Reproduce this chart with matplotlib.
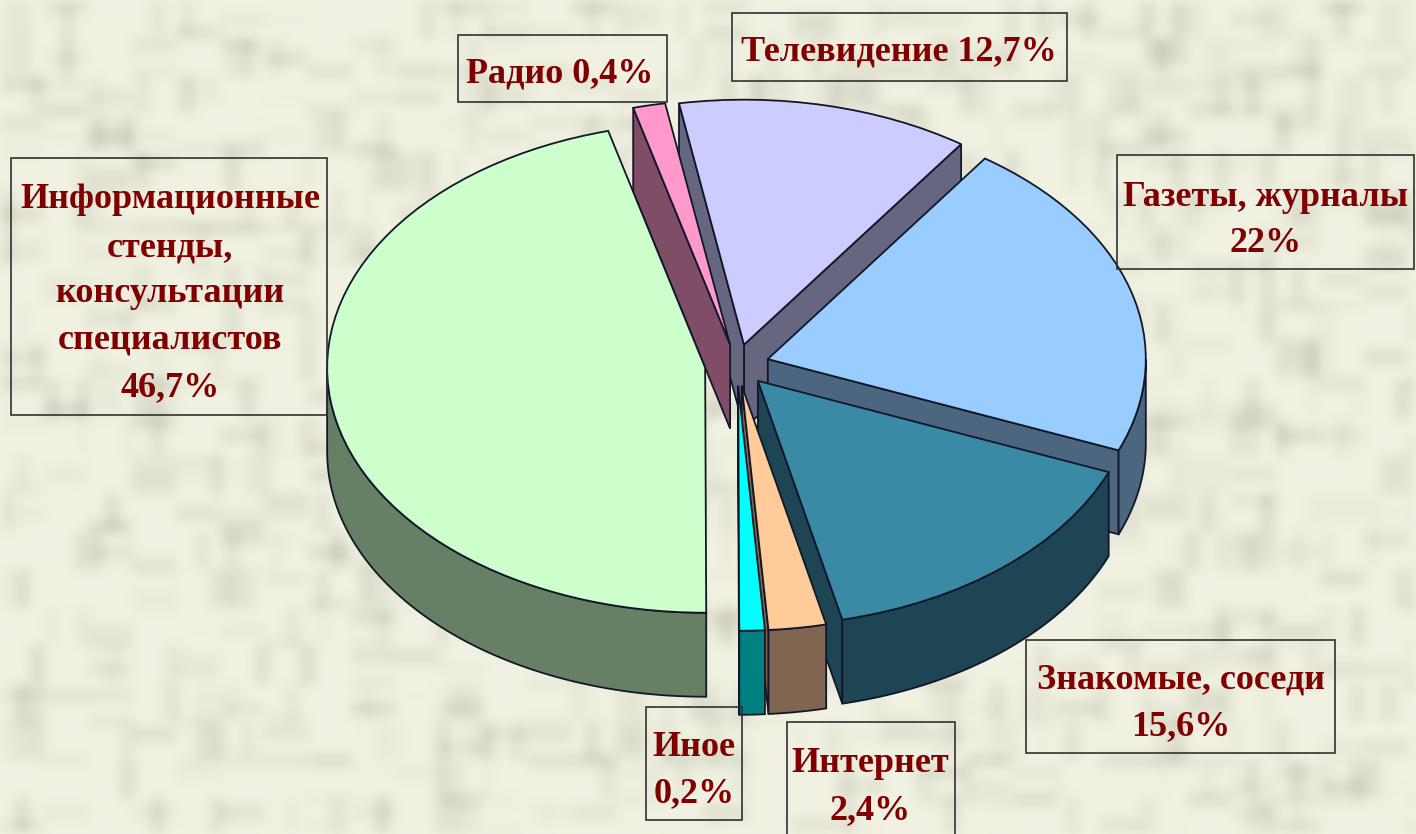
import numpy as np
import matplotlib
matplotlib.use('Agg')
import matplotlib.pyplot as plt
from matplotlib.patches import Polygon, Rectangle

# values from the labels, clockwise from Televidenie
names = ['Телевидение', 'Газеты, журналы', 'Знакомые, соседи', 'Интернет', 'Иное',
         'Информационные', 'Радио']
labelled = [12.7, 22, 15.6, 2.4, 0.2, 46.7, 0.4]
# shares as the slices are really drawn, the smallest are wider than their labels say
drawn = [12.7, 21.7, 15.6, 2.5, 1.1, 46.7, 1.4]
tops = ['#CCCCFF', '#99CCFF', '#3A8AA6', '#FFCC99', '#00FFFF', '#CCFFCC', '#FF99CC']
walls = ['#666680', '#4D6680', '#1D4553', '#806650', '#008080', '#668066', '#804D66']
paint_order = [0, 6, 1, 2, 5, 3, 4]  # back slices first

W, H = 1416, 834
CX, CY, RX, RY, DEPTH = 737, 365, 378, 245, 84
depth = DEPTH / RY
edge = '#101828'

plt.rcParams['font.family'] = ['Liberation Serif', 'DejaVu Serif']

fig = plt.figure(figsize=(W / 100, H / 100), dpi=100)


def fx(x):
    return x / W


def fy(y):
    return 1 - y / H


def pct(i):
    return str(labelled[i]).replace('.', ',') + '%'


def streaks(cell_w, cell_h, seed):
    # blocky spots, blurred, for the paper texture
    yy, xx = np.mgrid[0:H, 0:W]
    i, j = xx // cell_w, yy // cell_h
    v = np.sin(i * 12.9898 + j * 78.233 + seed) * 43758.5453
    v = v - np.floor(v)
    v = np.where(v > 0.72, (v - 0.72) / 0.28, 0.0)
    k = np.ones(13) / 13
    for _ in range(2):
        v = np.apply_along_axis(lambda r: np.convolve(r, k, mode='same'), 1, v)
        v = np.apply_along_axis(lambda r: np.convolve(r, k, mode='same'), 0, v)
    return v


light = np.array([246, 246, 232]) / 255
dark = np.array([200, 200, 182]) / 255
mix = np.clip(0.45 * streaks(44, 13, 0.0) + 0.45 * streaks(15, 38, 1.7) + 0.1, 0, 1)[..., None]
bg = fig.add_axes([0, 0, 1, 1])
bg.imshow(light * (1 - mix) + dark * mix, aspect='auto')
bg.axis('off')

ax = fig.add_axes([0, 0, 1, 1])
ax.patch.set_alpha(0)
wedges, _ = ax.pie(drawn, explode=[0.085] * len(drawn), colors=tops, startangle=99.9,
                   counterclock=False, radius=1,
                   wedgeprops={'edgecolor': edge, 'linewidth': 1.3})
ax.set_aspect('auto')
ax.set_xlim((0 - CX) / RX, (W - CX) / RX)
ax.set_ylim((CY - H) / RY, CY / RY)
ax.axis('off')

for rank, i in enumerate(paint_order):
    w = wedges[i]
    c = np.array(w.center)
    z = 2 + rank * 3
    # flat sides, only those that face the viewer
    for th, side in ((w.theta1, 1), (w.theta2, -1)):
        if side * np.cos(np.radians(th)) < -0.001:
            continue
        rim = c + [np.cos(np.radians(th)), np.sin(np.radians(th))]
        ax.add_patch(Polygon([c, rim, rim - [0, depth], c - [0, depth]], closed=True,
                             facecolor=walls[i], edgecolor=edge, linewidth=1.3, zorder=z))
    # round side, front half only
    a = np.arange(np.ceil(w.theta1), w.theta2, 1.0)
    a = np.radians(np.concatenate([[w.theta1], a, [w.theta2]]))
    a = a[np.sin(a) <= 0.001]
    if len(a) > 1:
        px = c[0] + np.cos(a)
        py = c[1] + np.sin(a)
        pts = np.r_[np.c_[px, py], np.c_[px, py - depth][::-1]]
        ax.add_patch(Polygon(pts, closed=True, facecolor=walls[i], edgecolor=edge,
                             linewidth=1.3, zorder=z + 1))
    w.set_zorder(z + 2)

# label boxes: left, top, right, bottom, lines, y of each line, x of the text
boxes = [
    (11, 158, 327, 415, ['Информационные', 'стенды,', 'консультации', 'специалистов', pct(5)],
     [198, 246, 292, 338, 386], 170),
    (458, 35, 667, 102, ['Радио ' + pct(6)], [72], 560),
    (732, 13, 1067, 81, ['Телевидение ' + pct(0)], [50], 899),
    (1117, 155, 1414, 269, ['Газеты, журналы', pct(1)], [195, 242], 1266),
    (1026, 640, 1335, 753, ['Знакомые, соседи', pct(2)], [678, 725], 1181),
    (646, 707, 742, 820, ['Иное', pct(4)], [746, 792], 694),
    (787, 722, 955, 840, ['Интернет', pct(3)], [761, 809], 870),
]
for x0, y0, x1, y1, lines, ys, tx in boxes:
    fig.add_artist(Rectangle((fx(x0), fy(y1)), (x1 - x0) / W, (y1 - y0) / H, fill=False,
                             edgecolor='#303030', linewidth=1.2, transform=fig.transFigure))
    for line, y in zip(lines, ys):
        fig.text(fx(tx), fy(y + 2), line, ha='center', va='center', fontsize=26,
                 fontweight='bold', color='#800000')

fig.savefig('out.png', dpi=100)
